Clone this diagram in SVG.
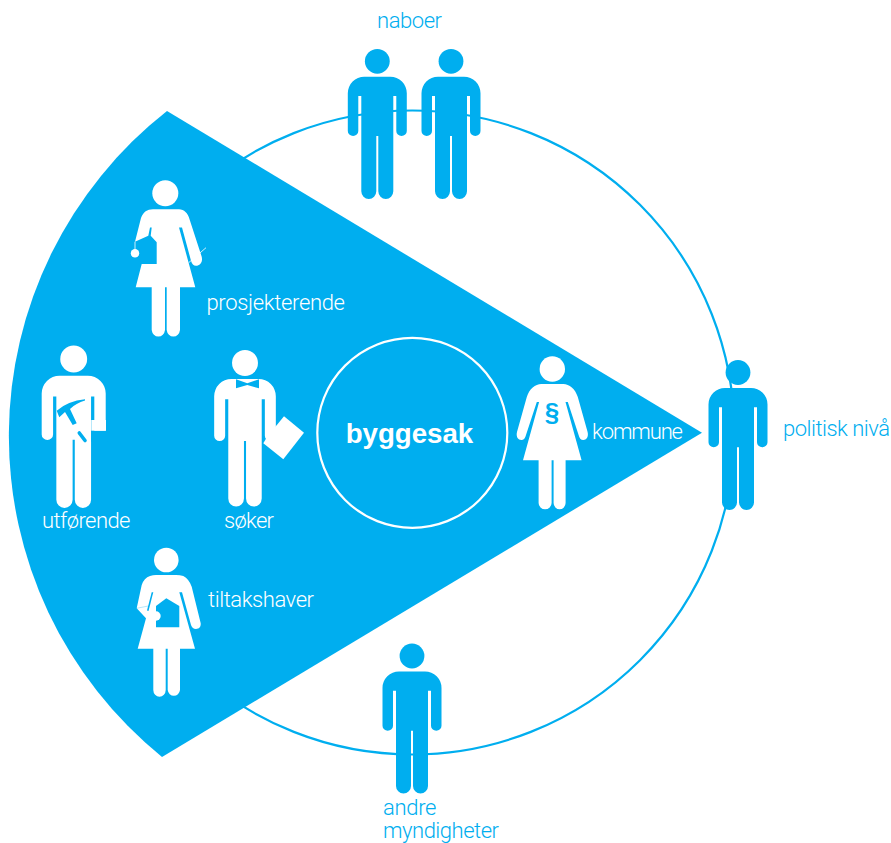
<svg xmlns="http://www.w3.org/2000/svg" width="891" height="843" viewBox="0 0 891 843">
<style>
.w{fill:#fff}.c{fill:#00aeef}
text{font-family:Roboto,"Liberation Sans",Arial,sans-serif;font-size:22px;font-weight:300}
.tw{fill:#fff}.tc{fill:#00aeef}
.b{font-family:"Liberation Sans",Arial,sans-serif;font-weight:700}
</style>
<defs>
<g id="man">
<circle cx="0" cy="0" r="12.4"/>
<path d="M-13,15.4H13A16.500,16.500 0 0 1 29.500,31.900V69.700A5.200,5 0 0 1 19,69.700V34.700H16V130A7.500,7.600 0 0 1 1,130V74.700H-1V130A7.500,7.600 0 0 1 -16,130V34.700H-19V69.700A5.200,5 0 0 1 -29.500,69.700V31.900A16.500,16.500 0 0 1 -13,15.4Z"/>
</g>
</defs>
<g id="connectors">
<circle cx="412.300" cy="432.500" r="322" fill="none" stroke="#00aeef" stroke-width="2.200"/>
</g>
<g id="wedge">
<path class="c" d="M167,111L702,432.700L162,757A413,413 0 0 1 167,111Z"/>
</g>
<g id="byggesak">
<circle cx="412.300" cy="432.800" r="95" fill="none" stroke="#fff" stroke-width="2.200"/>
<text x="345.700" y="443.300" textLength="127.500" class="tw b" style="font-size:27.700px">byggesak</text>
</g>
<g id="naboer">
<use href="#man" class="c" transform="translate(377.300,61.300)"/>
<use href="#man" class="c" transform="translate(451,61.300)"/>
<text x="377" y="27.500" textLength="65" class="tc">naboer</text>
</g>
<g id="politisk">
<use href="#man" class="c" transform="translate(738,372.500)"/>
<text x="783" y="435.700" textLength="107" class="tc">politisk nivå</text>
</g>
<g id="myndigheter">
<use href="#man" class="c" transform="translate(412,656)"/>
<text x="383" y="815" textLength="53.500" class="tc">andre</text>
<text x="383" y="838" textLength="116" class="tc">myndigheter</text>
</g>
<g id="prosjekterende">
<circle class="w" cx="165.300" cy="193.300" r="13"/>
<path class="w" d="M153,209.300H177C182.500,209.300 186.500,211 188.800,217L201.700,256.700C203,262 200,265.700 196,265.700C193.500,265.700 192,264 191,260.700L182,227.500H179L195.300,287.300H180V330A6.700,7.500 0 0 1 166.700,330V287.300H165V330A6.700,7.500 0 0 1 151.700,330V287.300H135.700L141.700,264L135,241.700L141,218C143.500,212 147,209.300 153,209.300Z"/>
<path class="c" d="M134,241.500L135.500,241.500L148.300,235.700L150,227.500H151.700L150.700,235.700L156.700,242.300V264H141.700L134,264Z"/>
<path d="M135,241.700V250M188.700,262.700L206,247.700" stroke="#fff" stroke-width=".8" fill="none"/>
<circle class="w" cx="135" cy="253.300" r="4.200"/>
<text x="206.500" y="310" textLength="138.500" class="tw">prosjekterende</text>
</g>
<g id="utforende">
<use href="#man" class="w" transform="translate(73.700,359) scale(1.085,1.082)"/>
<rect class="c" x="91.300" y="430.700" width="16" height="11"/>
<rect class="w" x="91.300" y="420" width="14.700" height="10.700"/>
<path class="c" d="M56.700,410.700Q68,401 85,399.300V400.500Q76,403 70,409L76.700,423.300L72.700,425L65,412L59.300,417.300Z"/>
<path d="M79.300,433L85,440.500" stroke="#00aeef" stroke-width="3.600" stroke-linecap="round"/>
<text x="42" y="528" textLength="88.500" class="tw">utførende</text>
</g>
<g id="soker">
<use href="#man" class="w" transform="translate(245,363) scale(1.045,1.043)"/>
<path class="c" d="M236,379.300L247.300,383.300L259,379.300V388.300L247.300,385L236,388.300Z"/>
<path class="w" d="M275,427.300L284,416.300L304,432.700L283.300,459.300L263.300,443.300L265.700,439.300Z"/>
<text x="224" y="528" textLength="50" class="tw">søker</text>
</g>
<g id="tiltakshaver">
<circle class="w" cx="166.300" cy="560" r="12.300"/>
<path class="w" d="M150,576Q153,575 156,575H176Q180,575 183.300,576Q189,579 191.700,586.700L200.700,623.300C201,627 199,629 196,629C193.500,629 192,627.500 191,625L182,592.300H179.300L195,648.700H180V690A6.200,6.700 0 0 1 167.700,690V648.700H165.700V690A6.200,6.700 0 0 1 153.300,690V648.700H137.700L146,618.300L136.700,608.300L141.700,585Q144,578 150,576Z"/>
<path class="c" d="M151.700,592.300H153.300L148.500,611L147,610.500Z"/>
<path class="c" d="M156,606L166.300,598.300L179.300,606V627.300H156Z"/>
<circle class="w" cx="156" cy="616" r="4.700"/>
<path d="M136.700,608.300L148.300,606" stroke="#00aeef" stroke-opacity=".5" stroke-width=".6" fill="none"/>
<text x="208" y="607" textLength="106" class="tw">tiltakshaver</text>
</g>
<g id="kommune">
<circle class="w" cx="552.300" cy="369" r="12.700"/>
<path class="w" transform="translate(552.300,369)" d="M-11,15H11C17,15 23,20 25.500,28L35.300,63C36.500,68 34,71 31,71C28.500,71 27,69 26.300,66L15.500,33H13.200L29.300,91.300H13.300V134A6,6.300 0 0 1 1.300,134V91.300H-.7V134A6.500,6.300 0 0 1 -13.700,134V91.300H-29.300L-13.200,33H-15.500L-26.300,66C-27,69 -28.500,71 -31,71C-34,71 -36.500,68 -35.300,63L-25.500,28C-23,20 -17,15 -11,15Z"/>
<text x="552" y="421" text-anchor="middle" class="tc b" style="font-size:26px">§</text>
<text x="592" y="439" textLength="91" class="tw">kommune</text>
</g>
</svg>
